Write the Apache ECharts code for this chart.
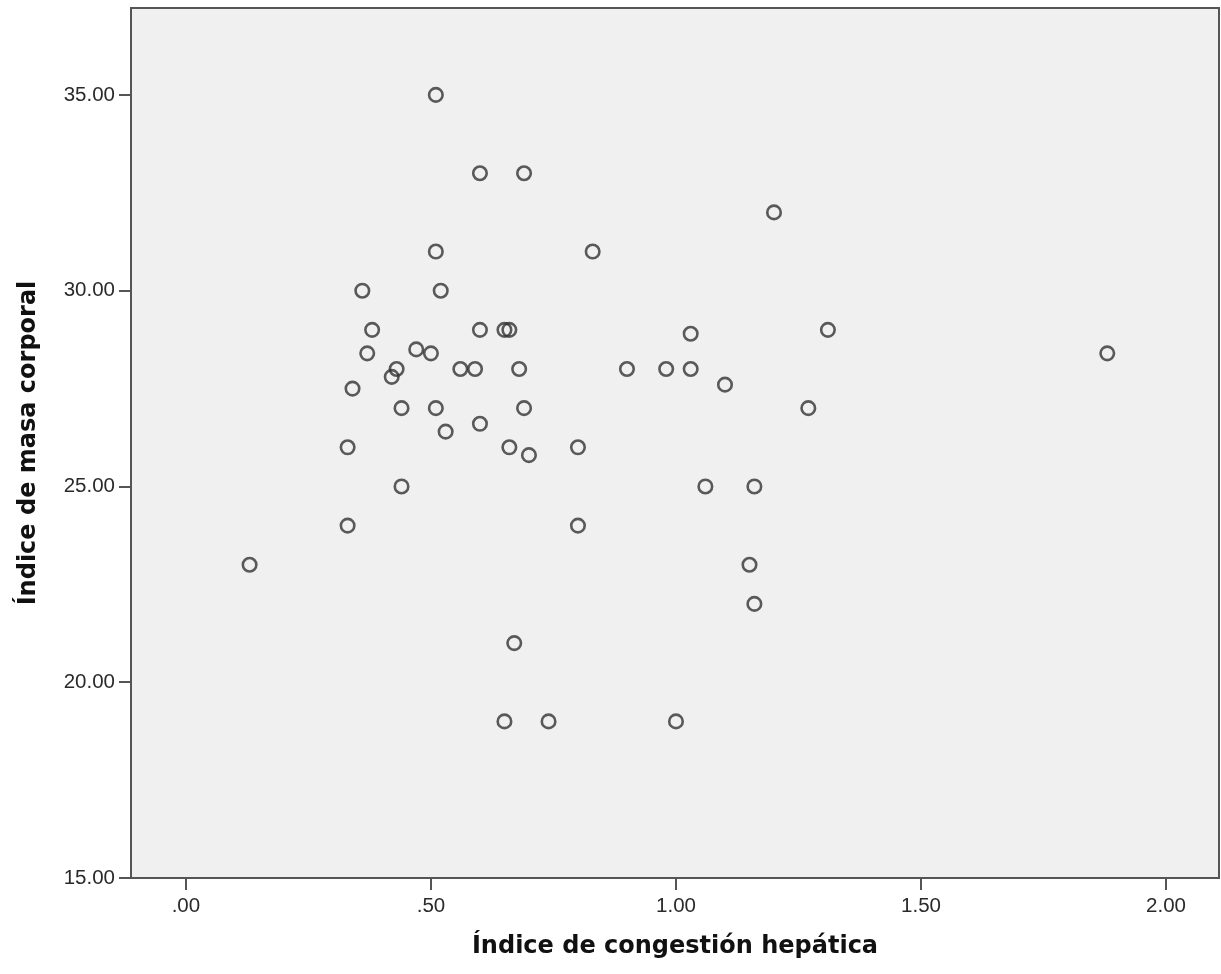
<!DOCTYPE html>
<html>
<head>
<meta charset="utf-8">
<title>Índice de congestión hepática vs Índice de masa corporal</title>
<script src="https://cdn.jsdelivr.net/npm/echarts@6/dist/echarts.min.js"></script>
<style>
  html, body { margin: 0; padding: 0; background: #fff; }
  #chart { width: 1221px; height: 974px; }
</style>
</head>
<body>
<div id="chart"></div>
<script>
// índice de congestión hepática (x)
var congestion = [
  0.13, 0.33, 0.33, 0.34, 0.36, 0.37, 0.38, 0.42, 0.43, 0.44,
  0.44, 0.47, 0.50, 0.51, 0.51, 0.51, 0.52, 0.53, 0.56, 0.59,
  0.60, 0.60, 0.60, 0.65, 0.66, 0.66, 0.65, 0.67, 0.68, 0.69,
  0.69, 0.70, 0.74, 0.80, 0.80, 0.83, 0.90, 0.98, 1.00, 1.03,
  1.03, 1.06, 1.10, 1.15, 1.16, 1.16, 1.20, 1.27, 1.31, 1.88
];
// índice de masa corporal (y)
var imc = [
  23.0, 24.0, 26.0, 27.5, 30.0, 28.4, 29.0, 27.8, 28.0, 27.0,
  25.0, 28.5, 28.4, 35.0, 31.0, 27.0, 30.0, 26.4, 28.0, 28.0,
  33.0, 29.0, 26.6, 29.0, 29.0, 26.0, 19.0, 21.0, 28.0, 33.0,
  27.0, 25.8, 19.0, 26.0, 24.0, 31.0, 28.0, 28.0, 19.0, 28.9,
  28.0, 25.0, 27.6, 23.0, 25.0, 22.0, 32.0, 27.0, 29.0, 28.4
];
var xTicks = [0, 0.5, 1, 1.5, 2];
var yTicks = [15, 20, 25, 30, 35];

var points = [];
for (var i = 0; i < congestion.length; i++) {
  points.push([congestion[i], imc[i]]);
}

var txt = '#2a2a2a';
var lineCol = '#555';

var myChart = echarts.init(document.getElementById('chart'));
var option = {
  backgroundColor: '#fff',
  animation: false,
  grid: {
    left: 131, top: 8, right: 2, bottom: 96,
    show: true,
    backgroundColor: '#f0f0f0',
    borderColor: lineCol,
    borderWidth: 2
  },
  xAxis: {
    type: 'value',
    min: -0.112,
    max: 2.108,
    name: 'Índice de congestión hepática',
    nameLocation: 'middle',
    nameGap: 57,
    nameTextStyle: { fontFamily: 'DejaVu Sans', fontWeight: 'bold', fontSize: 24, color: '#111' },
    axisLine: { show: true, onZero: false, lineStyle: { color: lineCol, width: 2 } },
    axisTick: { show: true, length: 12, customValues: xTicks, lineStyle: { color: lineCol, width: 2 } },
    axisLabel: {
      customValues: xTicks,
      margin: 18,
      fontFamily: 'Liberation Sans',
      fontSize: 20.5,
      color: txt,
      formatter: function (v) {
        var s = v.toFixed(2);
        return s.charAt(0) === '0' ? s.substring(1) : s;
      }
    },
    splitLine: { show: false }
  },
  yAxis: {
    type: 'value',
    min: 15,
    max: 37.22,
    name: 'Índice de masa corporal',
    nameLocation: 'middle',
    nameGap: 90,
    nameTextStyle: { fontFamily: 'DejaVu Sans', fontWeight: 'bold', fontSize: 24, color: '#111' },
    axisLine: { show: true, onZero: false, lineStyle: { color: lineCol, width: 2 } },
    axisTick: { show: true, length: 12, customValues: yTicks, lineStyle: { color: lineCol, width: 2 } },
    axisLabel: {
      customValues: yTicks,
      margin: 16,
      fontFamily: 'Liberation Sans',
      fontSize: 20.5,
      color: txt,
      formatter: function (v) { return v.toFixed(2); }
    },
    splitLine: { show: false }
  },
  series: [{
    type: 'scatter',
    data: points,
    symbol: 'circle',
    symbolSize: 13.5,
    itemStyle: {
      color: 'rgba(0,0,0,0)',
      borderColor: '#333',
      borderWidth: 2.6
    }
  }]
};
myChart.setOption(option);
</script>
</body>
</html>
